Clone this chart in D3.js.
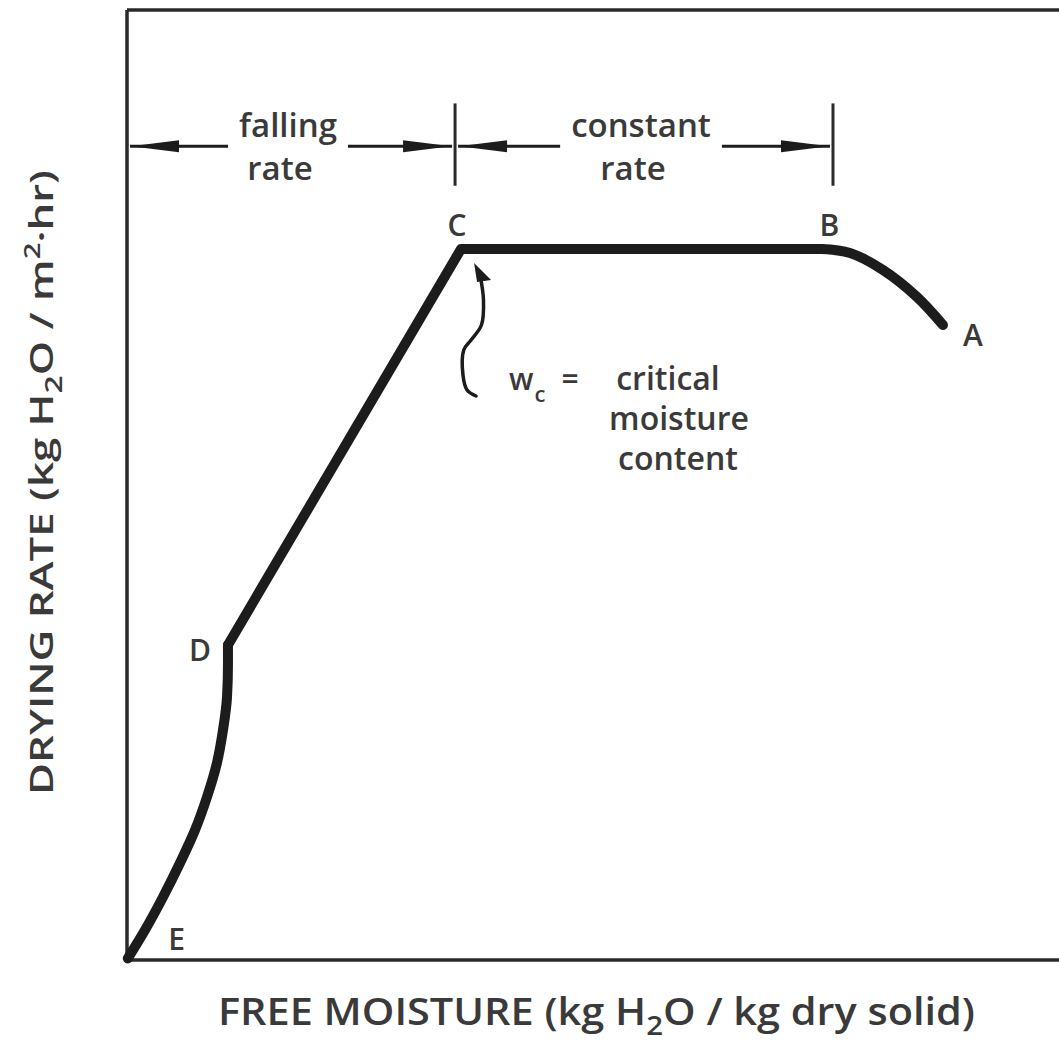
<!DOCTYPE html>
<html><head><meta charset="utf-8">
<script src="https://cdn.jsdelivr.net/npm/d3@7"></script>
<style>
html,body{margin:0;padding:0;background:#fff;}
svg{display:block;}
text{font-family:"Open Sans","Liberation Sans",sans-serif;fill:#3a3a3a;font-weight:600;}
</style></head>
<body>
<script>
// ---- data (schematic drying-rate curve) ----
const xDomain = [0, 0.6];
const yDomain = [0, 1.2];
// falling-rate section, E -> D
const fallingX = [0.0005, 0.0116, 0.0232, 0.0341, 0.0438, 0.0515, 0.0579, 0.0618, 0.0644, 0.0650, 0.0650];
const fallingY = [0.002, 0.0379, 0.0796, 0.1225, 0.1642, 0.2059, 0.2488, 0.2905, 0.3322, 0.3752, 0.398];
// straight section D -> C -> B
const straightX = [0.065, 0.215, 0.447];
const straightY = [0.398, 0.898, 0.898];
// initial warm-up section B -> A
const initialX = [0.447, 0.4655, 0.4867, 0.5086, 0.5253];
const initialY = [0.898, 0.893, 0.8716, 0.8375, 0.8021];
// labelled points
const pointNames = ["A", "B", "C", "D", "E"];
const pointX = [0.5253, 0.447, 0.215, 0.065, 0.001];
const pointY = [0.8021, 0.898, 0.898, 0.398, 0.003];
// regions along the top
const regionBounds = [0, 0.2112, 0.4545];
const regionLabels = [["falling", "rate"], ["constant", "rate"]];
const regionArrowY = 1.028;
const regionTickTop = 1.082, regionTickBottom = 0.978;
// critical moisture bracket
const bracketX = [0.2273, 0.2295, 0.2282, 0.2215, 0.2168, 0.2163, 0.2189, 0.2247];
const bracketY = [0.8652, 0.8337, 0.8021, 0.7832, 0.7705, 0.7389, 0.7200, 0.7124];
const criticalLines = ["critical", "moisture", "content"];

// ---- layout ----
const W = 1059, H = 1046;
const svg = d3.select("body").append("svg").attr("width", W).attr("height", H);
const x = d3.scaleLinear().domain(xDomain).range([127, 1059]);
const y = d3.scaleLinear().domain(yDomain).range([960, 10]);
const ink = "#1c1c1c";

// frame (left, top, bottom)
const frame = svg.append("g").attr("stroke", "#2a2a2a").attr("stroke-width", 3.5).attr("fill", "none");
frame.append("line").attr("x1", x(0)).attr("x2", x(0)).attr("y1", y(yDomain[1])).attr("y2", y(0));
frame.append("line").attr("x1", x(0)).attr("x2", x(xDomain[1]) + 2).attr("y1", y(yDomain[1])).attr("y2", y(yDomain[1]));
frame.append("line").attr("x1", x(0)).attr("x2", x(xDomain[1]) + 2).attr("y1", y(0)).attr("y2", y(0));

// curve
const zip = (xs, ys) => xs.map((v, i) => [v, ys[i]]);
const curveLine = d3.line().x(d => x(d[0])).y(d => y(d[1]));
const curveG = svg.append("g").attr("fill", "none").attr("stroke", ink)
  .attr("stroke-width", 10).attr("stroke-linecap", "round").attr("stroke-linejoin", "round");
curveG.append("path").attr("d", curveLine.curve(d3.curveMonotoneY)(zip(fallingX, fallingY)));
curveG.append("path").attr("d", curveLine.curve(d3.curveLinear)(zip(straightX, straightY)));
curveG.append("path").attr("d", curveLine.curve(d3.curveCatmullRom)(zip(initialX, initialY)));

// point labels
const labelOffset = {A: [30, 21], B: [8, -13], C: [-4, -13], D: [-28, 16], E: [48, -8]};
pointNames.forEach((n, i) => {
  svg.append("text").attr("x", x(pointX[i]) + labelOffset[n][0]).attr("y", y(pointY[i]) + labelOffset[n][1])
    .attr("text-anchor", "middle").attr("font-size", 30).attr("font-weight", 500).text(n);
});

// region annotations
const ann = svg.append("g");
const ay = y(regionArrowY);
function arrowHead(tipX, dir) {
  const L = 48, hw = 6;
  ann.append("path").attr("fill", ink)
    .attr("d", `M${tipX},${ay} L${tipX + dir * L},${ay - hw} L${tipX + dir * L},${ay + hw} Z`);
}
regionBounds.forEach((b, i) => {
  if (i > 0) {
    ann.append("line").attr("x1", x(b)).attr("x2", x(b)).attr("y1", y(regionTickTop)).attr("y2", y(regionTickBottom))
      .attr("stroke", "#2a2a2a").attr("stroke-width", 3);
  }
});
regionLabels.forEach((lab, i) => {
  const x0 = x(regionBounds[i]), x1 = x(regionBounds[i + 1]);
  const cx = (x0 + x1) / 2 - 3;
  const t1 = ann.append("text").attr("x", cx).attr("y", ay - 9).attr("text-anchor", "middle").attr("font-size", 33).text(lab[0]);
  ann.append("text").attr("x", cx - 8).attr("y", ay + 34).attr("text-anchor", "middle").attr("font-size", 33).text(lab[1]);
  const half = t1.node().getComputedTextLength() / 2 + 11;
  ann.append("line").attr("x1", x0 + 3).attr("x2", cx - half).attr("y1", ay).attr("y2", ay).attr("stroke", ink).attr("stroke-width", 3);
  ann.append("line").attr("x1", cx + half).attr("x2", x1 - 3).attr("y1", ay).attr("y2", ay).attr("stroke", ink).attr("stroke-width", 3);
  arrowHead(x0 + 4, 1);
  arrowHead(x1 - 4, -1);
});

// critical moisture bracket
svg.append("path").attr("fill", "none").attr("stroke", ink).attr("stroke-width", 3.5).attr("stroke-linecap", "round")
  .attr("d", d3.line().x(d => x(d[0])).y(d => y(d[1])).curve(d3.curveCatmullRom)(zip(bracketX, bracketY)));
{
  const tx = x(bracketX[0]) - 6, ty = y(bracketY[0]) - 12;
  svg.append("path").attr("fill", ink).attr("d", `M${tx},${ty} L${tx + 17},${ty + 17} L${tx + 3},${ty + 19} Z`);
}
const cw = svg.append("text").attr("x", 509).attr("y", 390).attr("font-size", 30);
cw.append("tspan").text("w");
cw.append("tspan").attr("font-size", 22).attr("dy", 12).attr("dx", 1).text("c");
cw.append("tspan").attr("dy", -12).attr("dx", 16).text("=");
svg.append("text").attr("x", 668).attr("y", 390).attr("text-anchor", "middle").attr("font-size", 32).text(criticalLines[0]);
svg.append("text").attr("x", 679).attr("y", 430).attr("text-anchor", "middle").attr("font-size", 32).text(criticalLines[1]);
svg.append("text").attr("x", 678).attr("y", 470).attr("text-anchor", "middle").attr("font-size", 32).text(criticalLines[2]);

// axis titles
const xt = svg.append("text").attr("x", 218).attr("y", 1025).attr("font-size", 38)
  .attr("textLength", 757).attr("lengthAdjust", "spacingAndGlyphs");
xt.append("tspan").text("FREE MOISTURE (kg H");
xt.append("tspan").attr("font-size", 27).attr("dy", 10).text("2");
xt.append("tspan").attr("dy", -10).text("O / kg dry solid)");

const yt = svg.append("text").attr("transform", "translate(53,795) rotate(-90)").attr("font-size", 33)
  .attr("textLength", 625).attr("lengthAdjust", "spacingAndGlyphs");
yt.append("tspan").text("DRYING RATE  (kg H");
yt.append("tspan").attr("font-size", 24).attr("dy", 9).text("2");
yt.append("tspan").attr("dy", -9).text("O / m");
yt.append("tspan").attr("font-size", 22).attr("dy", -13).text("2");
yt.append("tspan").attr("dy", 13).text("·hr)");
</script>
</body></html>
